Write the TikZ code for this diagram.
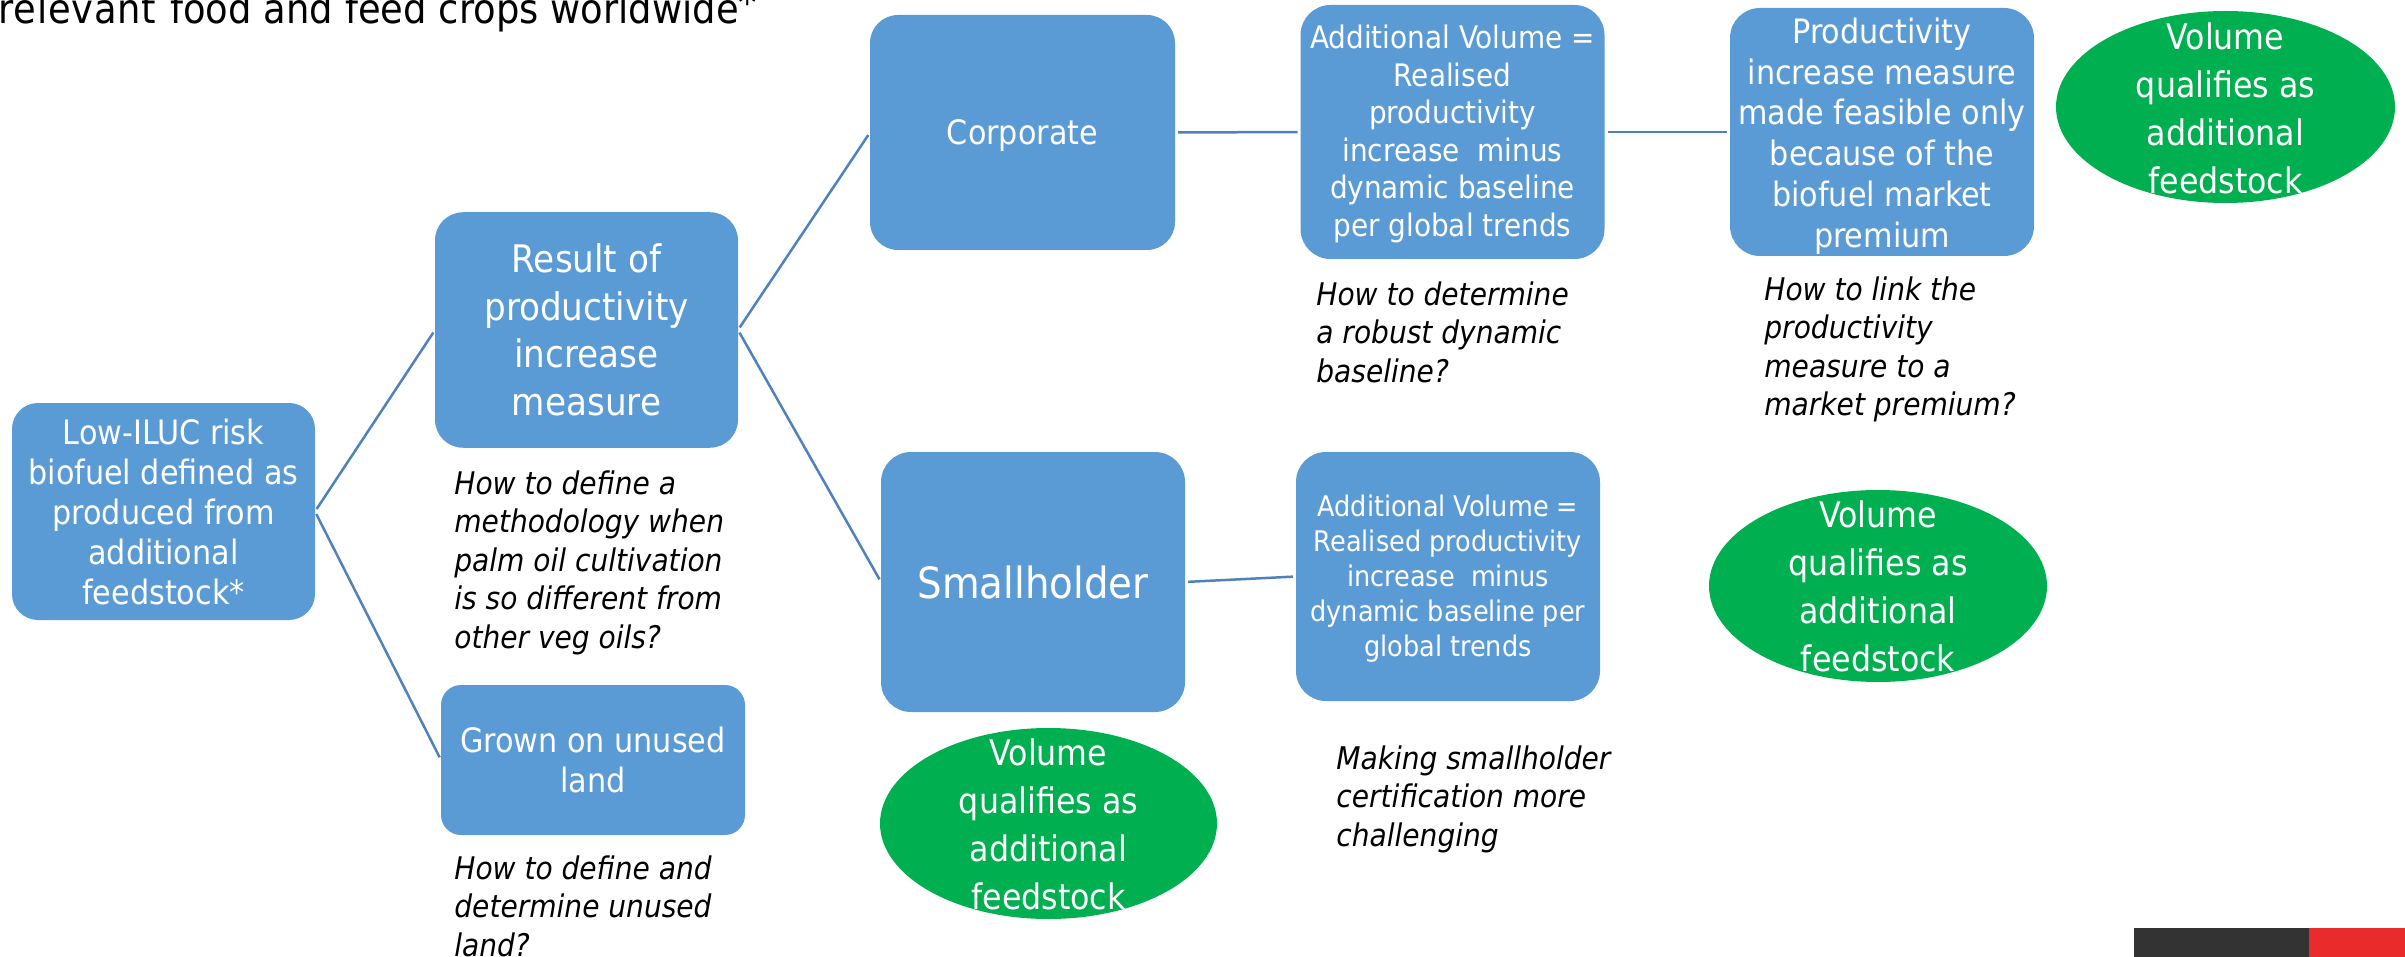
\documentclass[tikz,border=0pt]{standalone}
\usepackage{fontspec}
\setmainfont{DejaVu Sans Condensed}
\usetikzlibrary{shapes.geometric}
\definecolor{boxblue}{HTML}{5B9BD5}
\definecolor{ovalgreen}{HTML}{00B050}
\definecolor{linkblue}{HTML}{4F81BD}
\definecolor{bardark}{HTML}{333333}
\definecolor{barred}{HTML}{E92B2B}
\tikzset{
  x=0.5pt,y=-0.5pt,
  fs/.style 2 args={font=\fontsize{#1}{#2}\selectfont},
  box/.style n args={3}{rectangle,fill=boxblue,rounded corners=#3*0.5pt,text=white,align=center,inner sep=0pt,outer sep=0pt,minimum width=#1*0.5pt,minimum height=#2*0.5pt},
  boxtext/.style={text=white,align=center,inner sep=0pt},
  oval/.style n args={2}{ellipse,fill=ovalgreen,inner sep=0pt,outer sep=0pt,minimum width=#1*0.5pt,minimum height=#2*0.5pt},
  ovaltext/.style={text=white,align=center,inner sep=0pt,fs={17.6}{24}},
  question/.style={anchor=north west,align=left,inner sep=0pt,font=\fontsize{15.6}{19.25}\selectfont\itshape},
  link/.style={draw=linkblue,line width=1.25pt,shorten <=1.5pt,shorten >=1.5pt},
  bar/.style={inner sep=0pt,outer sep=0pt,anchor=north west}
}
\begin{document}
\begin{tikzpicture}
\useasboundingbox (0,0) rectangle (2405,957);
\clip (0,0) rectangle (2405,957);
\node[anchor=base west,inner sep=0pt,fs={20.5}{25}] (title) at (-2,23.5) {{\addfontfeature{LetterSpace=2}relevant}\hspace{7pt}food\hspace{6pt}and\hspace{6pt}feed\hspace{6pt}crops\hspace{6pt}worldwide\raisebox{0.14em}{*}};
\node[box={303}{217}{26},fs={16.8}{20}] (low) at (163.5,511.5) {Low-ILUC risk\\biofuel defined as\\produced from\\additional\\feedstock*};
\node[box={303}{235.5}{28},fs={19}{23.8}] (result) at (586.5,330) {Result of\\productivity\\increase\\measure};
\node[box={304}{150}{20},fs={16.8}{20}] (grown) at (593,760) {Grown on unused\\land};
\node[box={305}{235}{28}] (corp) at (1022.5,132.5) {};
\node[boxtext,fs={16.8}{20},yshift=-1.5pt] (corptext) at (corp.center) {Corporate};
\node[box={304}{254}{30}] (av1) at (1452.5,132) {};
\node[boxtext,fs={15.5}{18.75},yshift=-1pt] (av1text) at (av1.center) {Additional Volume =\\Realised\\productivity\\increase\ \ minus\\dynamic baseline\\per global trends};
\node[box={304}{260}{30},fs={21.5}{25}] (small) at (1033,582) {Smallholder};
\node[box={304}{249}{30}] (av2) at (1448,576.5) {};
\node[boxtext,fs={14.2}{17.5},yshift=-1pt] (av2text) at (av2.center) {Additional Volume =\\Realised productivity\\increase\ \ minus\\dynamic baseline per\\global trends};
\node[box={304}{248}{30}] (prod) at (1882,132) {};
\node[boxtext,fs={16.8}{20.4},yshift=-2pt] (prodtext) at (prod.center) {Productivity\\increase measure\\made feasible only\\because of the\\biofuel market\\premium};
\node[oval={339}{192}] (e1) at (2225.5,107) {};
\node[ovaltext,yshift=-0.5pt] at (e1.center) {Volume\\qualifies as\\additional\\feedstock};
\node[oval={338}{192}] (e2) at (1878,586) {};
\node[ovaltext] at (e2.center) {Volume\\qualifies as\\additional\\feedstock};
\node[oval={337}{191}] (e3) at (1048.5,823.5) {};
\node[ovaltext,yshift=-0.5pt] at (e3.center) {Volume\\qualifies as\\additional\\feedstock};
\node[question] (q1) at (454,470) {How to define a\\methodology when\\palm oil cultivation\\is so different from\\other veg oils?};
\node[question] (q2) at (454,855) {How to define and\\determine unused\\land?};
\node[question] (q3) at (1316,281) {How to determine\\a robust dynamic\\baseline?};
\node[question] (q4) at (1764,276) {How to link the\\productivity\\measure to a\\market premium?};
\node[question] (q5) at (1336,745) {Making smallholder\\certification more\\challenging};
\draw[link] (low.east) -- (result.west);
\draw[link] (low.east) -- (grown.west);
\draw[link] (result.east) -- (corp.west);
\draw[link] (result.east) -- (small.west);
\draw[link] (corp.east) -- (av1.west);
\draw[link] (av1.east) -- (prod.west);
\draw[link] (small.east) -- (av2.west);
\node[bar,fill=bardark,minimum width=87.5pt,minimum height=14.5pt] (bardk) at (2134,928) {};
\node[bar,fill=barred,minimum width=48pt,minimum height=14.5pt] (barrd) at (2309,928) {};
\end{tikzpicture}
\end{document}
